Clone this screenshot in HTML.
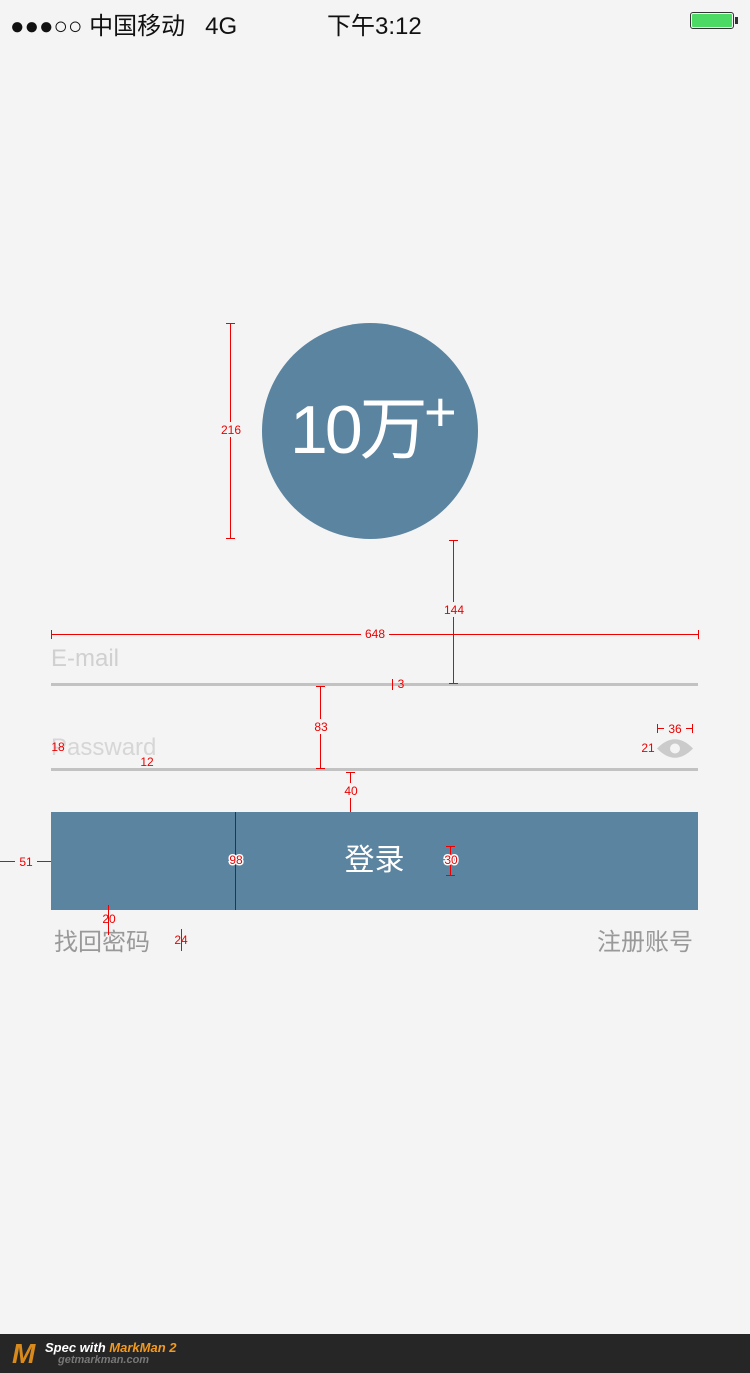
<!DOCTYPE html>
<html><head><meta charset="utf-8"><style>
body{margin:0;width:750px;height:1373px;background:#f4f4f4;position:relative;overflow:hidden;font-family:"Liberation Sans","Noto Sans CJK SC",sans-serif}
.a{position:absolute;white-space:nowrap}
</style></head><body>
<div class="a" style="left:10px;top:6px;font-size:24px;color:#111">●●●○○ 中国移动&nbsp;&nbsp; 4G</div>
<div class="a" style="left:327px;top:6px;font-size:24px;color:#111">下午3:12</div>
<div class="a" style="left:690px;top:12px;width:44px;height:17px;border:1px solid #333;border-radius:3px;box-sizing:border-box;padding:1px"><div style="width:100%;height:100%;background:#4cd964;border-radius:1px"></div></div>
<div class="a" style="left:735px;top:17px;width:3px;height:7px;background:#333"></div>

<div class="a" style="left:262px;top:323px;width:216px;height:216px;border-radius:50%;background:#5b84a0"></div>
<div class="a" style="left:290px;top:390px;font-size:68px;line-height:80px;color:#fff;letter-spacing:-3px">10万</div>
<div class="a" style="left:424px;top:384px;font-size:56px;line-height:56px;color:#fff">+</div>

<div class="a" style="left:51px;top:645px;font-size:24px;color:#d0d0d0">E-mail</div>
<div class="a" style="left:51px;top:683px;width:647px;height:3px;background:#c2c2c2"></div>
<div class="a" style="left:51px;top:734px;font-size:24px;color:#d6d6d6">Passward</div>
<div class="a" style="left:51px;top:768px;width:647px;height:3px;background:#c2c2c2"></div>
<svg class="a" style="left:657px;top:738px" width="36" height="21"><path d="M0 10.5 Q18 -8 36 10.5 Q18 29 0 10.5Z" fill="#cbcbcb"/><circle cx="18" cy="10.5" r="5" fill="#f4f4f4"/></svg>

<div class="a" style="left:51px;top:812px;width:647px;height:98px;background:#5b84a0;color:#fff;font-size:30px;line-height:98px;text-align:center">登录</div>
<div class="a" style="left:54px;top:922px;font-size:24px;color:#999">找回密码</div>
<div class="a" style="left:597px;top:922px;font-size:24px;color:#999">注册账号</div>

<svg class="a" style="left:0;top:0" width="750" height="1373" font-family="Liberation Sans, sans-serif" font-size="12" fill="#e00" text-anchor="middle">
<g stroke="#e00" stroke-width="1">
<line x1="230.5" y1="323" x2="230.5" y2="538"/><line x1="226" y1="323.5" x2="235" y2="323.5"/><line x1="226" y1="538.5" x2="235" y2="538.5"/>
<line x1="51" y1="634.5" x2="698" y2="634.5"/><line x1="51.5" y1="630" x2="51.5" y2="639"/><line x1="698.5" y1="630" x2="698.5" y2="639"/>
<line x1="453.5" y1="540" x2="453.5" y2="683"/><line x1="449" y1="540.5" x2="458" y2="540.5"/><line x1="449" y1="683.5" x2="458" y2="683.5"/>
<line x1="320.5" y1="686" x2="320.5" y2="769"/><line x1="316" y1="686.5" x2="325" y2="686.5"/><line x1="316" y1="768.5" x2="325" y2="768.5"/>
<line x1="350.5" y1="772" x2="350.5" y2="812"/><line x1="346" y1="772.5" x2="355" y2="772.5"/>
<line x1="0" y1="861.5" x2="51" y2="861.5"/>
<line x1="450.5" y1="846" x2="450.5" y2="875"/><line x1="446" y1="846.5" x2="455" y2="846.5"/><line x1="446" y1="875.5" x2="455" y2="875.5"/>
<line x1="657" y1="728.5" x2="692" y2="728.5"/><line x1="657.5" y1="724" x2="657.5" y2="733"/><line x1="692.5" y1="724" x2="692.5" y2="733"/>
<line x1="108.5" y1="905" x2="108.5" y2="935"/><line x1="181.5" y1="929" x2="181.5" y2="951"/>
<line x1="392.5" y1="679" x2="392.5" y2="690"/>
</g>
<line x1="235.5" y1="812" x2="235.5" y2="910" stroke="#333"/>
<rect x="217" y="422" width="28" height="15" fill="#f4f4f4"/><text x="231" y="434">216</text>
<rect x="361" y="627" width="28" height="15" fill="#f4f4f4"/><text x="375" y="638">648</text>
<rect x="440" y="602" width="28" height="15" fill="#f4f4f4"/><text x="454" y="614">144</text>
<rect x="310" y="719" width="22" height="15" fill="#f4f4f4"/><text x="321" y="731">83</text>
<rect x="340" y="783" width="22" height="15" fill="#f4f4f4"/><text x="351" y="795">40</text>
<rect x="15" y="854" width="22" height="15" fill="#f4f4f4"/><text x="26" y="866">51</text>
<text x="236" y="864" stroke="#fff" stroke-width="3" paint-order="stroke">98</text>
<text x="451" y="864" stroke="#fff" stroke-width="3" paint-order="stroke">30</text>
<text x="401" y="688">3</text><text x="58" y="751">18</text><text x="147" y="766">12</text>
<rect x="664" y="721" width="22" height="15" fill="#f4f4f4"/><text x="675" y="733">36</text>
<text x="648" y="752">21</text>
<text x="109" y="923">20</text><text x="181" y="944">24</text>
</svg>

<div class="a" style="left:0;top:1334px;width:750px;height:39px;background:#262626"></div>
<div class="a" style="left:12px;top:1340px;font-size:28px;line-height:28px;font-weight:bold;color:#d88a1c;font-style:italic">M</div>
<div class="a" style="left:45px;top:1340px;font-size:13px;font-weight:bold;font-style:italic;color:#fff">Spec with <span style="color:#f39a1e">MarkMan 2</span></div>
<div class="a" style="left:58px;top:1354px;font-size:11px;font-weight:bold;font-style:italic;color:#777">getmarkman.com</div>
</body></html>
